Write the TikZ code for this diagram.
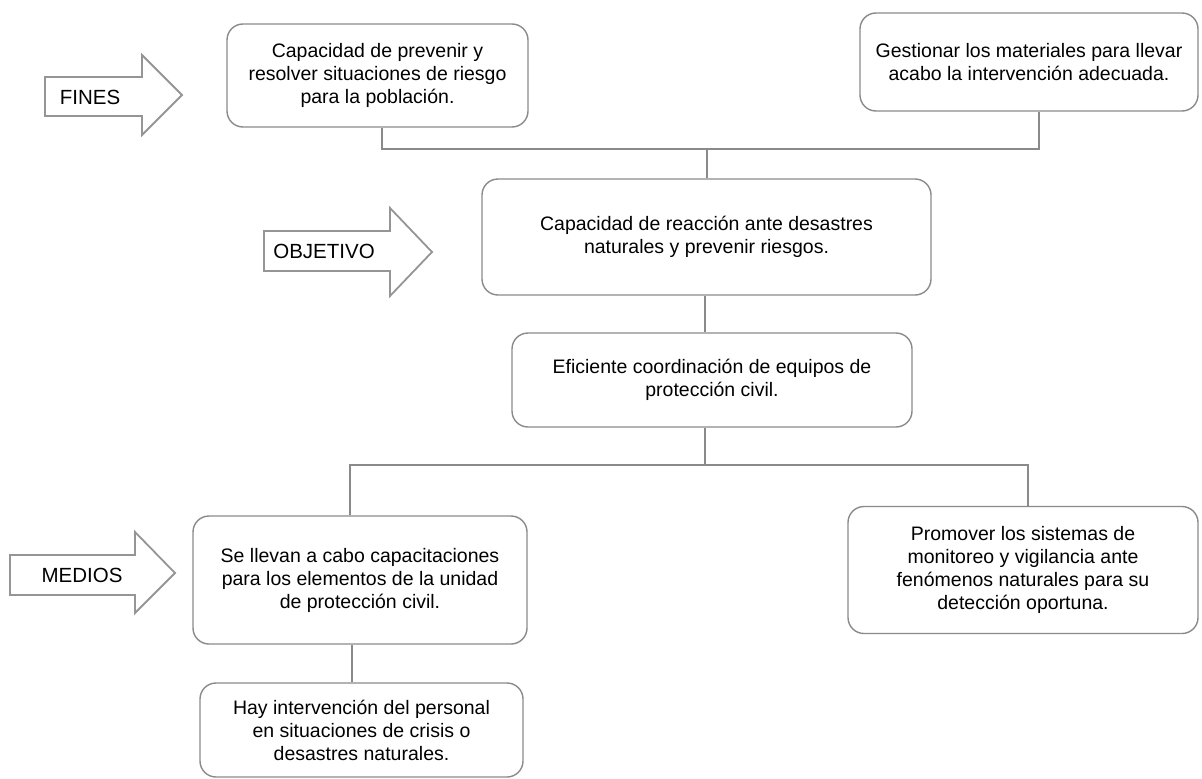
\documentclass[tikz,border=0pt]{standalone}
\usepackage{fontspec}
\setmainfont{Liberation Sans}
\definecolor{linegray}{HTML}{8A8A8A}
\definecolor{arrowgray}{HTML}{959595}
\begin{document}
\begin{tikzpicture}[x=1pt,y=-1pt,
  box/.style={draw=linegray, line width=1.4pt, rounded corners=16pt, align=center,
    font=\fontsize{19.5}{23}\selectfont, inner sep=0pt},
  conn/.style={draw=linegray, line width=1.6pt},
  blockarrow/.style={draw=arrowgray, line width=1.8pt, line join=miter, fill=white},
  tag/.style={font=\fontsize{20.5}{24}\selectfont, inner sep=0pt}]
\useasboundingbox (0,0) rectangle (1202,779);

% block arrows
\draw[blockarrow] (45,77) -- (142,77) -- (142,55) -- (182,95) -- (142,135) -- (142,116) -- (45,116) -- cycle;
\node[tag] (fines) at (90,97) {FINES};
\draw[blockarrow] (264,231) -- (390,231) -- (390,208) -- (432,252) -- (390,296) -- (390,271) -- (264,271) -- cycle;
\node[tag] (objetivo) at (324,251) {OBJETIVO};
\draw[blockarrow] (10,555) -- (135,555) -- (135,532) -- (175,573) -- (135,613) -- (135,595) -- (10,595) -- cycle;
\node[tag] (medios) at (82,575) {MEDIOS};

% boxes
\node[box, minimum width=301pt, minimum height=103pt] (A) at (377.5,75.5)
  {Capacidad de prevenir y\\resolver situaciones de riesgo\\para la población.};
\node[box, minimum width=338pt, minimum height=98pt] (B) at (1029,62)
  {Gestionar los materiales para llevar\\acabo la intervención adecuada.};
\node[box, minimum width=449pt, minimum height=116pt] (C) at (706.5,237)
  {Capacidad de reacción ante desastres\\naturales y prevenir riesgos.};
\node[box, minimum width=400pt, minimum height=94pt] (D) at (712,380)
  {Eficiente coordinación de equipos de\\protección civil.};
\node[box, minimum width=334pt, minimum height=128pt] (E) at (360,580)
  {Se llevan a cabo capacitaciones\\para los elementos de la unidad\\de protección civil.};
\node[box, minimum width=350pt, minimum height=127pt] (F) at (1023,570)
  {Promover los sistemas de\\monitoreo y vigilancia ante\\fenómenos naturales para su\\detección oportuna.};
\node[box, minimum width=323pt, minimum height=94pt] (G) at (361.5,730)
  {Hay intervención del personal\\en situaciones de crisis o\\desastres naturales.};

% connectors
\coordinate (jt) at (707,149);
\coordinate (jb) at (705,465);
\draw[conn] ([xshift=4.5pt]A.south) |- (jt) -| ([xshift=10pt]B.south);
\draw[conn] (jt) -- (jt |- C.north);
\draw[conn] (C.south -| jb) -- (jb |- D.north);
\draw[conn] (D.south -| jb) -- (jb);
\draw[conn] (jb) -| ([xshift=-10pt]E.north);
\draw[conn] (jb) -| ([xshift=5pt]F.north);
\draw[conn] ([xshift=-8pt]E.south) -- ([xshift=-8pt]E.south |- G.north);
\end{tikzpicture}
\end{document}
